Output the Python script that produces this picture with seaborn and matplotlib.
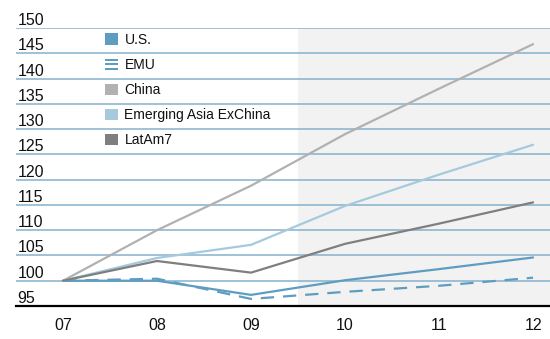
import matplotlib
matplotlib.use("Agg")
import matplotlib.pyplot as plt
import matplotlib.transforms as mtransforms
from matplotlib.patches import Patch, Rectangle
from matplotlib.legend_handler import HandlerBase
import seaborn as sns
import pandas as pd

years = ["07", "08", "09", "10", "11", "12"]
us = [100, 100, 97.2, 100.1, 102.3, 104.6]
emu = [100, 100.4, 96.4, 97.8, 99.0, 100.6]
china = [100, 110, 118.8, 129, 138, 146.8]
em_asia = [100, 104.5, 107.1, 114.8, 121.0, 126.9]
latam7 = [100, 103.9, 101.6, 107.3, 111.3, 115.5]
series_names = ["U.S.", "EMU", "China", "Emerging Asia ExChina", "LatAm7"]
yticks = [95, 100, 105, 110, 115, 120, 125, 130, 135, 140, 145, 150]

colors = {"U.S.": "#5e9dc0", "EMU": "#5e9dc0", "China": "#b1b1b1",
          "Emerging Asia ExChina": "#a5cadd", "LatAm7": "#7f7f7f"}

rows = []
for name, vals in zip(series_names, [us, emu, china, em_asia, latam7]):
    for i, (yr, v) in enumerate(zip(years, vals)):
        rows.append({"series": name, "x": i, "year": yr, "value": v})
df = pd.DataFrame(rows)

sns.set_theme(style="white")
plt.rcParams["font.family"] = ["Liberation Sans", "DejaVu Sans"]

fig = plt.figure(figsize=(5.5, 3.39), dpi=100)
ax = fig.add_axes([16/550, 1-306/339, 1-16/550, (306-28)/339])

ax.axvspan(2.5, 5.3, color="#f2f2f2", zorder=0, lw=0)

for name in series_names:
    sub = df[df.series == name]
    ls = (0, (6, 4)) if name == "EMU" else "-"
    sns.lineplot(data=sub, x="x", y="value", ax=ax, color=colors[name],
                 lw=1.6, linestyle=ls, legend=False, zorder=3)

ax.set_xlim(-0.5, 5.18)
ax.set_ylim(95, 150)
ax.set_yticks(yticks)
ax.set_yticklabels([str(t) for t in yticks])
ax.set_xticks(range(len(years)))
ax.set_xticklabels(years)
ax.set_xlabel("")
ax.set_ylabel("")
ax.set_axisbelow(True)
ax.yaxis.grid(True, color="#86b1cb", lw=1.1, zorder=0.5)
ax.xaxis.grid(False)
for s in ["top", "right", "left"]:
    ax.spines[s].set_visible(False)
ax.spines["bottom"].set_color("black")
ax.spines["bottom"].set_linewidth(1.6)
ax.spines["bottom"].set_zorder(4)

ax.tick_params(axis="y", length=0, pad=-1, labelsize=11.5, labelcolor="#111111")
ax.tick_params(axis="x", length=0, pad=9, labelsize=11.5, labelcolor="#111111")
for lab in ax.get_yticklabels():
    lab.set_horizontalalignment("left")
    lab.set_transform(lab.get_transform() + mtransforms.ScaledTranslation(0, 9/100, fig.dpi_scale_trans))


class StripeHandler(HandlerBase):
    def create_artists(self, legend, orig_handle, xdescent, ydescent, width, height, fontsize, trans):
        arts = []
        h = height / 5.0
        for k in range(3):
            r = Rectangle((-xdescent, -ydescent + k * 2 * h), width, h,
                          facecolor=colors["EMU"], edgecolor="none", transform=trans)
            arts.append(r)
        return arts


handles = [Patch(facecolor=colors[n], edgecolor="none") for n in series_names]
emu_handle = object()
handles[1] = Patch(facecolor="none", edgecolor="none")
leg = ax.legend(handles, series_names, loc="upper left",
                bbox_to_anchor=((105-16)/534, 1 - (33-28)/278),
                frameon=False, fontsize=10, handlelength=0.9, handleheight=0.9,
                handletextpad=0.5, labelspacing=0.8, borderpad=0, borderaxespad=0,
                handler_map={handles[1]: StripeHandler()})
for t in leg.get_texts():
    t.set_color("#111111")

fig.savefig("out.png", dpi=100)
